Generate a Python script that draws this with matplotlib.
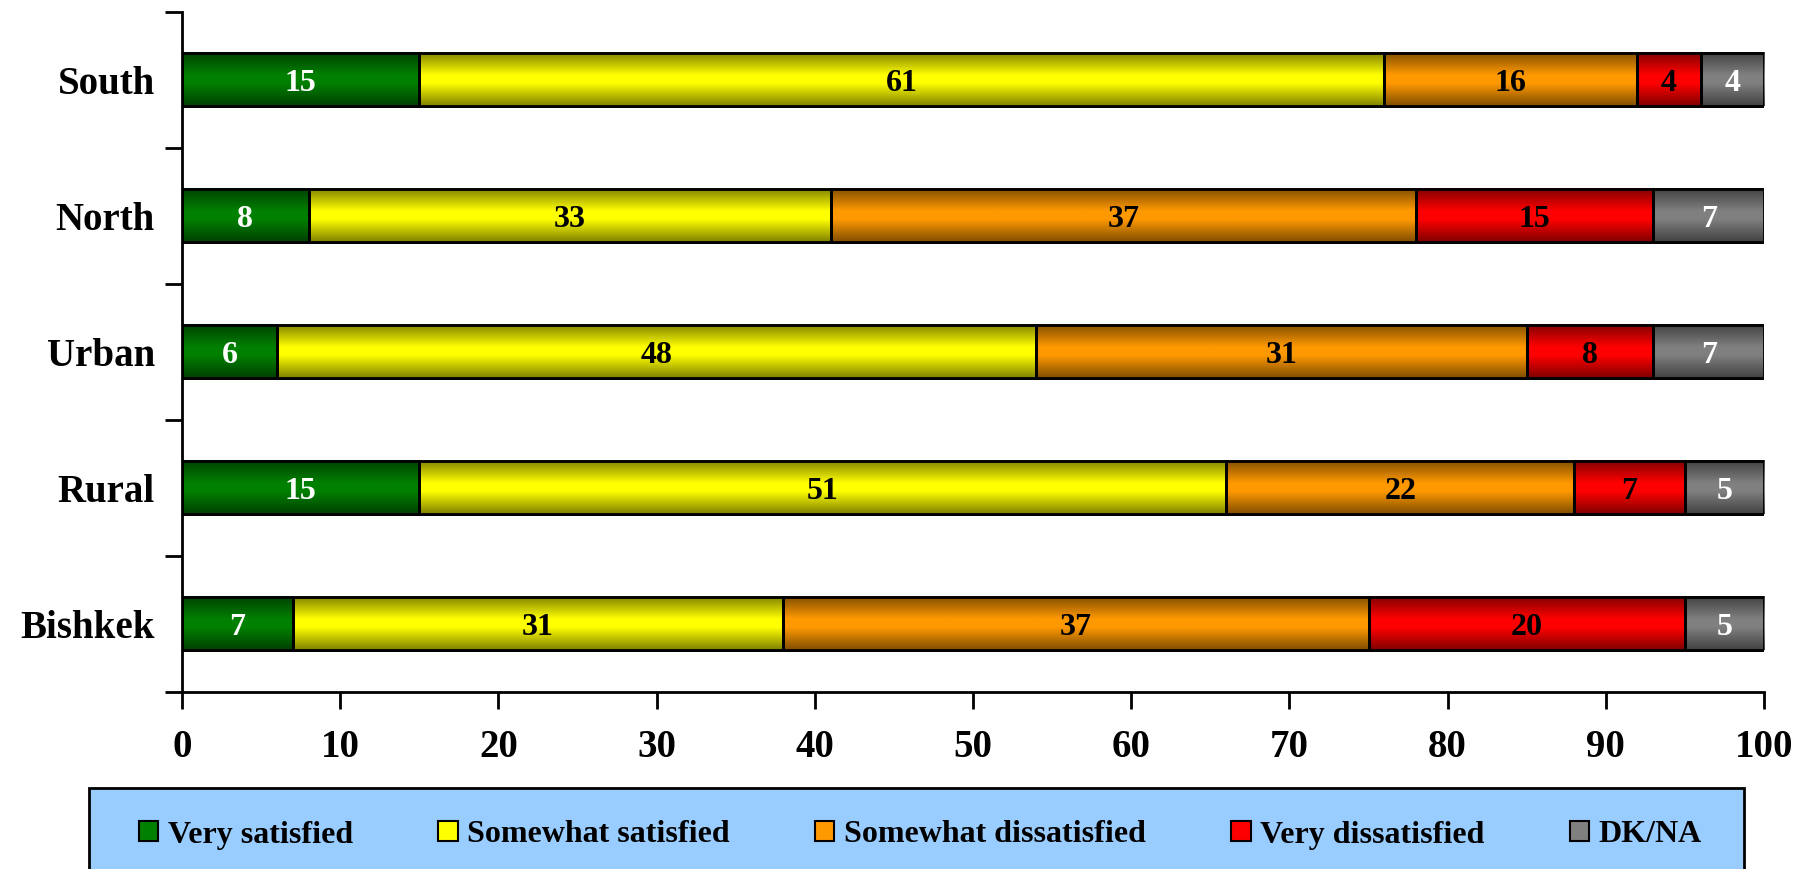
import numpy as np
import matplotlib
matplotlib.use('Agg')
import matplotlib.pyplot as plt
from matplotlib.patches import Rectangle, Patch

categories = ['Bishkek', 'Rural', 'Urban', 'North', 'South']
very_satisfied = [7, 15, 6, 8, 15]
somewhat_satisfied = [31, 51, 48, 33, 61]
somewhat_dissatisfied = [37, 22, 31, 37, 16]
very_dissatisfied = [20, 7, 8, 15, 4]
dk_na = [5, 5, 7, 7, 4]
series_names = ['Very satisfied', 'Somewhat satisfied', 'Somewhat dissatisfied',
                'Very dissatisfied', 'DK/NA']
x_ticks = [0, 10, 20, 30, 40, 50, 60, 70, 80, 90, 100]

series_values = [very_satisfied, somewhat_satisfied, somewhat_dissatisfied,
                 very_dissatisfied, dk_na]
colors = ['#008000', '#FFFF00', '#FF9900', '#FF0000', '#808080']
label_colors = ['white', 'black', 'black', 'black', 'white']

FONT = 'Liberation Serif'
plt.rcParams['font.family'] = [FONT, 'DejaVu Serif']
plt.rcParams['font.weight'] = 'bold'

W, H = 1814, 869
fig = plt.figure(figsize=(W / 100, H / 100), dpi=100)
ax = fig.add_axes([182 / W, 1 - 691.7 / H, (1764 - 182) / W, (691.7 - 12) / H])

# vertical shading profile (dark at top/bottom edges, full colour in middle)
n = 96
t = (np.arange(n) + 0.5) / n
d = np.minimum(t, 1 - t) * 2
fac = 0.5 + 0.5 * np.clip(d / 0.85, 0, 1)

def grad_img(color):
    rgb = np.array(matplotlib.colors.to_rgb(color))
    return np.clip(fac[:, None, None] * rgb[None, None, :], 0, 1)

y = np.arange(len(categories))
left = np.zeros(len(categories))
bar_h = 0.39
for vals, col, lc in zip(series_values, colors, label_colors):
    vals = np.array(vals, dtype=float)
    cont = ax.barh(y, vals, left=left, height=bar_h, color=col,
                   edgecolor='black', linewidth=2, zorder=2)
    for p in cont.patches:
        x0, y0 = p.get_x(), p.get_y()
        w, h = p.get_width(), p.get_height()
        ax.imshow(grad_img(col), extent=[x0, x0 + w, y0, y0 + h],
                  aspect='auto', origin='upper', zorder=2.5,
                  interpolation='bilinear')
        ax.add_patch(Rectangle((x0, y0), w, h, fill=False, ec='black',
                               lw=2, zorder=3))
    texts = ax.bar_label(cont, labels=[f'{int(v)}' for v in vals], label_type='center',
                         color=lc, fontsize=23, fontweight='bold', family=FONT, zorder=4)
    for tx in texts:
        tx.xyann = (0, -2.5)
    left += vals

ax.set_xlim(0, 100)
ax.set_ylim(-0.5, len(categories) - 0.5)

ax.set_xticks(x_ticks)
ax.set_xticklabels([str(v) for v in x_ticks], fontsize=28, fontweight='bold')
ax.tick_params(axis='x', direction='out', length=12, width=2, pad=15)

ax.set_yticks(np.arange(len(categories) + 1) - 0.5)
ax.set_yticklabels([])
ax.set_yticks(y, minor=True)
ax.set_yticklabels(categories, minor=True, fontsize=28, fontweight='bold')
ax.tick_params(axis='y', which='major', direction='out', length=12, width=2)
ax.tick_params(axis='y', which='minor', length=0, pad=19.5)

for s in ['top', 'right']:
    ax.spines[s].set_visible(False)
for s in ['left', 'bottom']:
    ax.spines[s].set_linewidth(2)

# legend background box
fig.patches.append(Rectangle((89 / W, -0.05), (1744 - 89) / W, (H - 787.7) / H + 0.05,
                             transform=fig.transFigure, fc='#99CCFF', ec='black',
                             lw=2, zorder=0))

handles = [Patch(facecolor=c, edgecolor='black', linewidth=1.5) for c in colors]
leg = fig.legend(handles, series_names, loc='center', ncol=5, mode='expand',
                 bbox_to_anchor=(139 / W, (H - 835) / H - 0.02, (1702 - 139) / W, 0.04),
                 bbox_transform=fig.transFigure, frameon=False, borderpad=0,
                 borderaxespad=0, handlelength=0.6, handleheight=0.6,
                 handletextpad=0.3, prop={'family': FONT, 'weight': 'bold', 'size': 23})

fig.savefig('out.png', dpi=100)
